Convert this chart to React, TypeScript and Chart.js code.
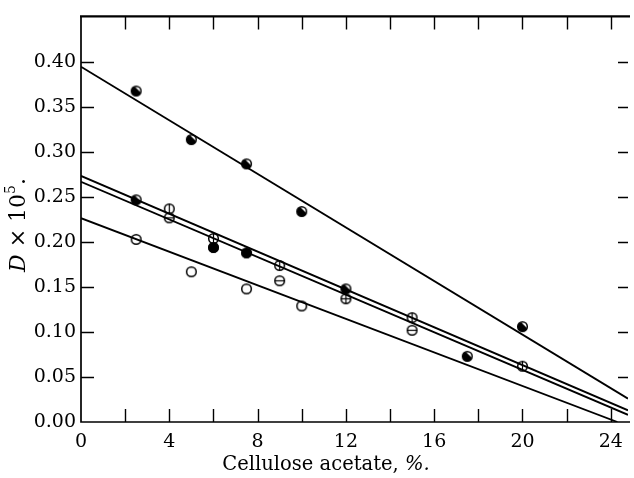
import React, { useEffect, useRef } from "react";
import { Chart, registerables } from "chart.js";

Chart.register(...registerables);

// ---- data ----
const xTickValues = [0, 4, 8, 12, 16, 20, 24];
const xMinorTicks = [2, 4, 6, 8, 10, 12, 14, 16, 18, 20, 22, 24];
const yTickValues = [0, 0.05, 0.1, 0.15, 0.2, 0.25, 0.3, 0.35, 0.4];

// top series (half-filled circles)
const topX = [2.5, 5, 7.5, 10, 20];
const topY = [0.368, 0.314, 0.287, 0.234, 0.106];
// half-filled circles (middle group)
const halfX = [2.5, 12, 17.5];
const halfY = [0.247, 0.148, 0.073];
// filled circles
const filledX = [6, 7.5];
const filledY = [0.194, 0.188];
// circles with vertical bar
const vbarX = [4, 6, 9, 15, 20];
const vbarY = [0.237, 0.204, 0.174, 0.116, 0.062];
// circles with horizontal bar
const hbarX = [4, 9, 15];
const hbarY = [0.227, 0.157, 0.102];
// circle with cross
const crossX = [12];
const crossY = [0.137];
// open circles
const openX = [2.5, 5, 7.5, 10];
const openY = [0.203, 0.167, 0.148, 0.129];

// fitted straight lines (end points)
const lineTopX = [0, 24.78];
const lineTopY = [0.395, 0.026];
const lineMidUpperX = [0, 24.78];
const lineMidUpperY = [0.2736, 0.013];
const lineMidLowerX = [0, 24.78];
const lineMidLowerY = [0.267, 0.008];
const lineBottomX = [0, 24.3];
const lineBottomY = [0.2266, 0];

const INK = "#000";
const SERIF = "'DejaVu Serif', 'Liberation Serif', serif";

function pts(xs: number[], ys: number[]) {
  return xs.map((x, i) => ({ x, y: ys[i] }));
}

function makeMarker(kind: string): HTMLCanvasElement {
  const c = document.createElement("canvas");
  c.width = 15;
  c.height = 15;
  const ctx = c.getContext("2d")!;
  const cx = 7.5, cy = 7.5, r = 4.8;
  ctx.fillStyle = "#fff";
  ctx.beginPath();
  ctx.arc(cx, cy, r, 0, Math.PI * 2);
  ctx.fill();
  ctx.fillStyle = INK;
  ctx.strokeStyle = INK;
  ctx.lineWidth = 1.5;
  if (kind === "filled") {
    ctx.beginPath();
    ctx.arc(cx, cy, r + 0.5, 0, Math.PI * 2);
    ctx.fill();
  }
  if (kind === "half") {
    ctx.beginPath();
    ctx.arc(cx, cy, r, 0.1 * Math.PI, 1.4 * Math.PI);
    ctx.closePath();
    ctx.fill();
  }
  ctx.beginPath();
  ctx.arc(cx, cy, r, 0, Math.PI * 2);
  ctx.stroke();
  ctx.lineWidth = 1.2;
  if (kind === "vbar" || kind === "cross") {
    ctx.beginPath();
    ctx.moveTo(cx, cy - r);
    ctx.lineTo(cx, cy + r);
    ctx.stroke();
  }
  if (kind === "hbar" || kind === "cross") {
    ctx.beginPath();
    ctx.moveTo(cx - r, cy);
    ctx.lineTo(cx + r, cy);
    ctx.stroke();
  }
  return c;
}

const framePlugin = {
  id: "frame",
  afterDatasetsDraw(chart: any) {
    const { ctx, chartArea, scales } = chart;
    const { left, right, top, bottom } = chartArea;
    const xs = scales.x;
    const ys = scales.y;
    ctx.save();
    ctx.strokeStyle = INK;
    ctx.lineWidth = 1.7;
    ctx.beginPath();
    ctx.moveTo(left, top);
    ctx.lineTo(left, bottom);
    ctx.lineTo(right + 2, bottom);
    ctx.stroke();
    ctx.lineWidth = 2.2;
    ctx.beginPath();
    ctx.moveTo(left - 1, top);
    ctx.lineTo(right + 2, top);
    ctx.stroke();
    ctx.lineWidth = 1.4;
    const TL = 13;
    ctx.beginPath();
    for (const v of xMinorTicks) {
      const px = Math.round(xs.getPixelForValue(v)) + 0.5;
      ctx.moveTo(px, bottom);
      ctx.lineTo(px, bottom - TL);
      ctx.moveTo(px, top);
      ctx.lineTo(px, top + TL);
    }
    for (const v of yTickValues) {
      if (v === 0) continue;
      const py = Math.round(ys.getPixelForValue(v)) + 0.5;
      ctx.moveTo(left, py);
      ctx.lineTo(left + TL, py);
      ctx.moveTo(right, py);
      ctx.lineTo(right - 10, py);
    }
    ctx.stroke();

    // x axis title
    ctx.fillStyle = INK;
    ctx.textBaseline = "middle";
    const xt1 = "Cellulose acetate, ";
    const xt2 = "%.";
    const fs = 19.5;
    ctx.font = `${fs}px ${SERIF}`;
    const w1 = ctx.measureText(xt1).width;
    ctx.font = `italic ${fs}px ${SERIF}`;
    const w2 = ctx.measureText(xt2).width;
    const cxT = left + 245;
    const yT = 465;
    const sx = cxT - (w1 + w2) / 2;
    ctx.font = `${fs}px ${SERIF}`;
    ctx.textAlign = "left";
    ctx.fillText(xt1, sx, yT);
    ctx.font = `italic ${fs}px ${SERIF}`;
    ctx.fillText(xt2, sx + w1, yT);

    // y axis title, rotated
    ctx.save();
    ctx.translate(19, 225);
    ctx.rotate(-Math.PI / 2);
    const segs = [
      { t: "D", f: `italic 22px ${SERIF}`, dy: 0 },
      { t: " × 10", f: `22px ${SERIF}`, dy: 0 },
      { t: "5", f: `14px ${SERIF}`, dy: -8 },
      { t: ".", f: `22px ${SERIF}`, dy: 0 },
    ];
    let total = 0;
    const widths = segs.map((s) => {
      ctx.font = s.f;
      const w = ctx.measureText(s.t).width;
      total += w;
      return w;
    });
    let px = -total / 2;
    segs.forEach((s, i) => {
      ctx.font = s.f;
      ctx.fillText(s.t, px, s.dy);
      px += widths[i];
    });
    ctx.restore();
    ctx.restore();
  },
};

export default function App() {
  const ref = useRef<HTMLCanvasElement | null>(null);
  useEffect(() => {
    document.body.style.margin = "0";
    document.body.style.overflow = "hidden";
    const canvas = ref.current!;
    const half = makeMarker("half");
    const filled = makeMarker("filled");
    const vbar = makeMarker("vbar");
    const hbar = makeMarker("hbar");
    const cross = makeMarker("cross");
    const open = makeMarker("open");
    const lineDs = (xs: number[], ys: number[]) => ({
      data: pts(xs, ys),
      showLine: true,
      borderColor: INK,
      borderWidth: 1.8,
      pointRadius: 0,
      fill: false,
    });
    const ptDs = (xs: number[], ys: number[], style: HTMLCanvasElement) => ({
      data: pts(xs, ys),
      showLine: false,
      pointStyle: style,
      pointRadius: 5,
    });
    const chart = new Chart(canvas, {
      type: "scatter",
      data: {
        datasets: [
          lineDs(lineTopX, lineTopY),
          lineDs(lineMidUpperX, lineMidUpperY),
          lineDs(lineMidLowerX, lineMidLowerY),
          lineDs(lineBottomX, lineBottomY),
          ptDs(openX, openY, open),
          ptDs(hbarX, hbarY, hbar),
          ptDs(crossX, crossY, cross),
          ptDs(filledX, filledY, filled),
          ptDs(vbarX, vbarY, vbar),
          ptDs(halfX, halfY, half),
          ptDs(topX, topY, half),
        ] as any,
      },
      options: {
        animation: false,
        responsive: false,
        devicePixelRatio: 1,
        layout: { padding: { top: 12, left: 0, right: 0, bottom: 0 } },
        plugins: { legend: { display: false }, tooltip: { enabled: false } },
        scales: {
          x: {
            type: "linear",
            min: 0,
            max: 24.78,
            grid: { display: false, drawTicks: false },
            border: { display: false },
            afterBuildTicks: (s: any) => {
              s.ticks = xTickValues.map((v) => ({ value: v }));
            },
            afterFit: (s: any) => {
              s.height = 56;
            },
            ticks: {
              color: INK,
              padding: 9,
              maxRotation: 0,
              font: { family: SERIF, size: 19 },
              callback: (v: any) => String(v),
            },
          },
          y: {
            type: "linear",
            min: 0,
            max: 0.451,
            grid: { display: false, drawTicks: false },
            border: { display: false },
            afterBuildTicks: (s: any) => {
              s.ticks = yTickValues.map((v) => ({ value: v }));
            },
            afterFit: (s: any) => {
              s.width = 81;
            },
            ticks: {
              color: INK,
              padding: 5,
              font: { family: SERIF, size: 19 },
              callback: (v: any) => Number(v).toFixed(2),
            },
          },
        },
      },
      plugins: [framePlugin],
    });
    return () => chart.destroy();
  }, []);
  return (
    <div style={{ width: 634, height: 478, background: "#fff" }}>
      <canvas ref={ref} width={634} height={478} style={{ display: "block" }} />
    </div>
  );
}
